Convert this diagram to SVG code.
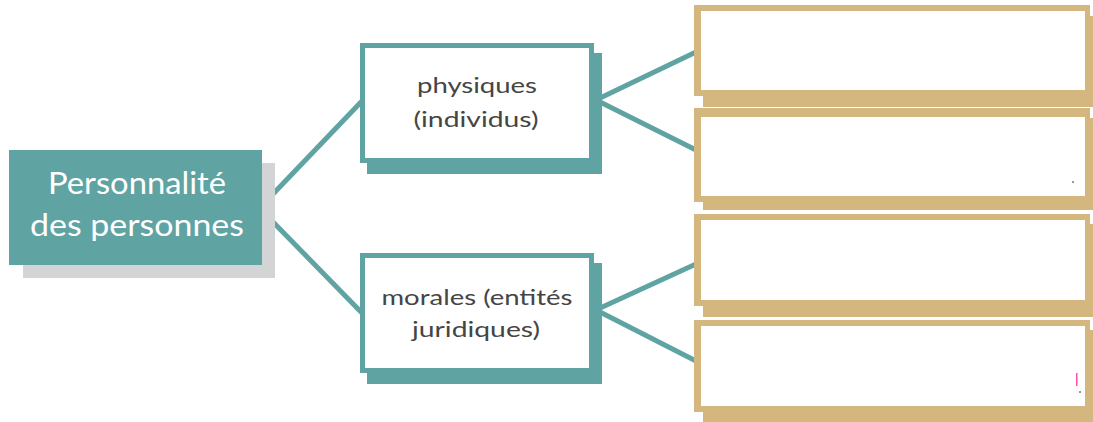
<svg xmlns="http://www.w3.org/2000/svg" width="1093" height="422" viewBox="0 0 1093 422">
<style>
.teal{fill:#5fa3a3}
.tshadow{fill:#5fa3a3}
.gold{fill:#d4b77f}
.white{fill:#ffffff}
.conn{stroke:#5fa3a3;stroke-width:5;fill:none;stroke-linecap:butt}
.main{font-family:Lato,"Noto Sans",sans-serif;font-size:30px;fill:#ffffff;text-anchor:middle}
.lbl{font-family:Lato,"Noto Sans",sans-serif;font-size:21px;fill:#454545;text-anchor:middle}
</style>
<rect width="1093" height="422" fill="#ffffff"/>
<g id="connectors">
<line class="conn" x1="273" y1="194" x2="362" y2="101"/>
<line class="conn" x1="273" y1="222" x2="362" y2="313"/>
<line class="conn" x1="598" y1="99" x2="696" y2="52"/>
<line class="conn" x1="598" y1="101" x2="696" y2="150"/>
<line class="conn" x1="598" y1="309" x2="696" y2="264"/>
<line class="conn" x1="598" y1="311" x2="696" y2="361"/>
</g>
<g id="root">
<rect x="23" y="163" width="252" height="115" fill="#d3d4d6"/>
<rect class="teal" x="9" y="150" width="253" height="115"/>
<text class="main" x="137" y="194" textLength="178" lengthAdjust="spacingAndGlyphs">Personnalité</text>
<text class="main" x="137" y="236" textLength="214" lengthAdjust="spacingAndGlyphs">des personnes</text>
</g>
<g id="physiques">
<rect class="tshadow" x="367" y="53" width="235" height="121"/>
<rect class="teal" x="360" y="43" width="234" height="120"/>
<rect class="white" x="365" y="48" width="224" height="110"/>
<text class="lbl" x="477" y="93" textLength="120" lengthAdjust="spacingAndGlyphs">physiques</text>
<text class="lbl" x="476" y="127" textLength="125" lengthAdjust="spacingAndGlyphs">(individus)</text>
</g>
<g id="morales">
<rect class="tshadow" x="367" y="263" width="235" height="121"/>
<rect class="teal" x="360" y="253" width="234" height="120"/>
<rect class="white" x="365" y="258" width="224" height="110"/>
<text class="lbl" x="477" y="305" textLength="191" lengthAdjust="spacingAndGlyphs">morales (entités</text>
<text class="lbl" x="476" y="337" textLength="128" lengthAdjust="spacingAndGlyphs">juridiques)</text>
</g>
<g id="box1">
<rect class="gold" x="703" y="16" width="390" height="91"/>
<rect class="gold" x="694" y="5" width="396" height="91"/>
<rect class="white" x="701" y="11" width="384" height="79"/>
</g>
<g id="box2">
<rect class="gold" x="703" y="118" width="390" height="92"/>
<rect class="gold" x="694" y="108" width="396" height="94"/>
<rect class="white" x="701" y="117" width="384" height="79"/>
<rect x="1072" y="181" width="2" height="2" fill="#999999"/>
</g>
<g id="box3">
<rect class="gold" x="703" y="224" width="390" height="93"/>
<rect class="gold" x="694" y="214" width="396" height="92"/>
<rect class="white" x="701" y="220" width="384" height="80"/>
</g>
<g id="box4">
<rect class="gold" x="703" y="330" width="390" height="92"/>
<rect class="gold" x="694" y="320" width="396" height="92"/>
<rect class="white" x="701" y="326" width="384" height="80"/>
<rect x="1076" y="373" width="1.5" height="13" fill="#ff4fa8"/>
<rect x="1079" y="391" width="2" height="2" fill="#999999"/>
</g>
</svg>
